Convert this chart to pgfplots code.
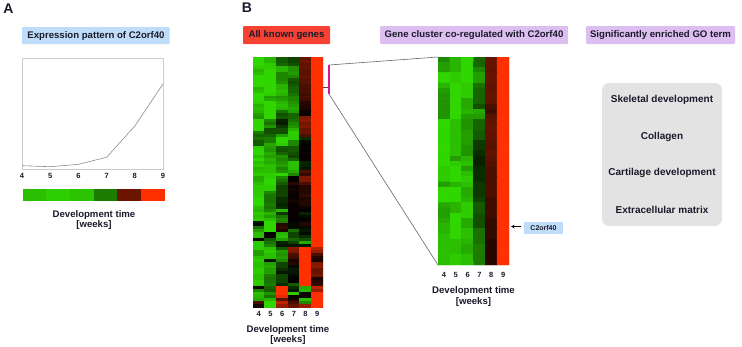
\documentclass[border=0pt]{standalone}
\usepackage{pgfplots}
\usepackage{fontspec}
\setmainfont{Liberation Sans}
\pgfplotsset{compat=1.18}
\definecolor{txt}{HTML}{1A1A2A}
\definecolor{tagblue}{RGB}{191,221,248}
\definecolor{tagviolet}{RGB}{221,190,240}
\definecolor{tagred}{RGB}{246,66,50}
\newcommand{\fs}[1]{\fontsize{#1}{#1}\selectfont\bfseries}
\pgfplotsset{
  colormap={gbr}{rgb255(0)=(50,225,0) rgb255(500)=(0,0,0) rgb255(1000)=(255,48,0)},
  heat/.style={scale only axis,axis line style={draw=none},tick style={draw=none},
    xmin=3.5,xmax=9.5,y dir=reverse,ytick=\empty,xtick={4,...,9},
    point meta min=-1,point meta max=1,
    xticklabel style={font=\fs{7.5},text=txt,inner sep=0pt},
    /pgf/number format/assume math mode=true,
    xlabel style={font=\fs{9.6},text=txt,align=center,inner sep=0pt}},
  heatcells/.style={matrix plot*,mesh/cols=6,point meta=explicit},
}
\begin{document}
\begin{tikzpicture}
\useasboundingbox (0pt,0pt) rectangle (742pt,-346pt);
\begin{scope}[x=1pt,y=-1pt]
\node[font=\fs{14},text=txt,inner sep=0pt] at (8.5,9) {A};
\node[font=\fs{14},text=txt,inner sep=0pt] at (247,8) {B};
\fill[rounded corners=1pt,fill=tagblue] (22,27) rectangle (169.5,44);
\node[font=\fs{9.6},text=txt,inner sep=0pt] at (96,36) {Expression pattern of C2orf40};
\fill[rounded corners=1pt,fill=tagred] (243,26) rectangle (330,44);
\node[font=\fs{9.6},text=txt,inner sep=0pt] at (286.5,35) {All known genes};
\fill[rounded corners=1pt,fill=tagviolet] (380,26) rectangle (568,44);
\node[font=\fs{9.6},text=txt,inner sep=0pt] at (474,35) {Gene cluster co-regulated with C2orf40};
\fill[rounded corners=1pt,fill=tagviolet] (586,26) rectangle (735,44);
\node[font=\fs{9.6},text=txt,inner sep=0pt] at (660.5,35) {Significantly enriched GO term};
\fill[rounded corners=7pt,fill=black!11] (602,83) rectangle (722,226);
\node[font=\fs{10},text=txt,inner sep=0pt] at (662,100) {Skeletal development};
\node[font=\fs{10},text=txt,inner sep=0pt] at (662,137) {Collagen};
\node[font=\fs{10},text=txt,inner sep=0pt] at (662,173) {Cartilage development};
\node[font=\fs{10},text=txt,inner sep=0pt] at (662,210) {Extracellular matrix};
\draw[black!60,line width=.6pt] (329,65) -- (438,57);
\draw[black!60,line width=.6pt] (329,94) -- (438,265);
\draw[black!70,line width=.6pt] (323,87) -- (328,87);
\draw[magenta!80!violet,line width=1.6pt] (329,65) -- (329,94);
\fill[fill=tagblue] (524,222) rectangle (563,234);
\node[font=\fs{7},text=txt,inner sep=0pt] at (543.5,228) {C2orf40};
\draw[black,line width=.6pt,-stealth] (521,226.5) -- (511,226.5);
\end{scope}
% panel A line
\begin{axis}[at={(22pt,-169pt)},anchor=south west,scale only axis,width=141pt,height=111pt,
  xmin=4,xmax=9,ymin=0,ymax=111,ytick=\empty,xtick={4,...,9},
  axis line style={draw=black!20,line width=.8pt},tick style={draw=none},
  xticklabel style={font=\fs{7.5},text=txt,inner sep=0pt,yshift=-4pt},
  /pgf/number format/assume math mode=true,clip=false]
\addplot[black!45,line width=.6pt] coordinates {(4,3.3)(5,2.3)(6,4.7)(7,11.7)(8,43)(9,85)};
\end{axis}
% panel A colour bar
\begin{axis}[heat,at={(23pt,-200pt)},anchor=south west,width=142pt,height=11pt,
  ymin=-.5,ymax=1.5,xtick=\empty,xlabel={Development time\\[1pt] [weeks]},
  xlabel style={yshift=-10pt}]
\addplot[heatcells] coordinates {
(4,0)[-.85](5,0)[-.92](6,0)[-.87](7,0)[-.55](8,0)[.42](9,0)[1]
(4,1)[-.85](5,1)[-.92](6,1)[-.87](7,1)[-.55](8,1)[.42](9,1)[1]
};
\end{axis}
% all genes heat map
\begin{axis}[heat,at={(253pt,-307pt)},anchor=south west,width=70pt,height=250pt,
  ymin=-.5,ymax=83.5,xlabel={Development time\\[1pt] [weeks]},
  xticklabel style={yshift=-4.5pt},xlabel style={yshift=-8pt}]
\addplot[heatcells] coordinates {
(4,0)[-.95](5,0)[-.8](6,0)[-.4](7,0)[-.3](8,0)[.4](9,0)[1]
(4,1)[-.95](5,1)[-.8](6,1)[-.4](7,1)[-.3](8,1)[.42](9,1)[1]
(4,2)[-.95](5,2)[-.9](6,2)[-.45](7,2)[-.35](8,2)[.38](9,2)[1]
(4,3)[-.9](5,3)[-.9](6,3)[-.8](7,3)[-.65](8,3)[.4](9,3)[1]
(4,4)[-.8](5,4)[-.95](6,4)[-.8](7,4)[-.65](8,4)[.35](9,4)[1]
(4,5)[-.85](5,5)[-.95](6,5)[-.6](7,5)[-.7](8,5)[.35](9,5)[1]
(4,6)[-.95](5,6)[-.95](6,6)[-.6](7,6)[-.6](8,6)[.4](9,6)[1]
(4,7)[-.95](5,7)[-.95](6,7)[-.6](7,7)[-.4](8,7)[.35](9,7)[1]
(4,8)[-.95](5,8)[-.95](6,8)[-.65](7,8)[-.35](8,8)[.35](9,8)[1]
(4,9)[-.95](5,9)[-.95](6,9)[-.8](7,9)[-.4](8,9)[.3](9,9)[1]
(4,10)[-.8](5,10)[-.95](6,10)[-.8](7,10)[-.45](8,10)[.3](9,10)[1]
(4,11)[-.85](5,11)[-.95](6,11)[-.85](7,11)[-.45](8,11)[.3](9,11)[1]
(4,12)[-.95](5,12)[-.9](6,12)[-.8](7,12)[-.5](8,12)[.25](9,12)[1]
(4,13)[-.95](5,13)[-.7](6,13)[-.65](7,13)[-.6](8,13)[.3](9,13)[1]
(4,14)[-.95](5,14)[-.75](6,14)[-.7](7,14)[-.6](8,14)[.25](9,14)[1]
(4,15)[-.9](5,15)[-.95](6,15)[-.8](7,15)[-.65](8,15)[.15](9,15)[1]
(4,16)[-.8](5,16)[-.95](6,16)[-.85](7,16)[-.7](8,16)[.15](9,16)[1]
(4,17)[-.85](5,17)[-.95](6,17)[-.8](7,17)[-.75](8,17)[.12](9,17)[1]
(4,18)[-.8](5,18)[-.95](6,18)[-.5](7,18)[-.7](8,18)[.05](9,18)[1]
(4,19)[-.7](5,19)[-.95](6,19)[-.35](7,19)[-.45](8,19)[.03](9,19)[1]
(4,20)[-.65](5,20)[-.95](6,20)[-.4](7,20)[-.45](8,20)[.5](9,20)[1]
(4,21)[-.95](5,21)[-.6](6,21)[-.15](7,21)[-.5](8,21)[.55](9,21)[1]
(4,22)[-.95](5,22)[-.5](6,22)[-.12](7,22)[-.6](8,22)[.45](9,22)[1]
(4,23)[-.95](5,23)[-.65](6,23)[-.25](7,23)[-.65](8,23)[.5](9,23)[1]
(4,24)[-.95](5,24)[-.35](6,24)[-.35](7,24)[-.8](8,24)[.4](9,24)[1]
(4,25)[-.55](5,25)[-.35](6,25)[-.35](7,25)[-.9](8,25)[.42](9,25)[1]
(4,26)[-.45](5,26)[-.45](6,26)[-.7](7,26)[-.9](8,26)[.3](9,26)[1]
(4,27)[-.5](5,27)[-.55](6,27)[-.95](7,27)[-.9](8,27)[-.2](9,27)[1]
(4,28)[-.4](5,28)[-.55](6,28)[-.95](7,28)[-.6](8,28)[-.05](9,28)[1]
(4,29)[-.4](5,29)[-.75](6,29)[-.9](7,29)[-.6](8,29)[0](9,29)[1]
(4,30)[-.9](5,30)[-.7](6,30)[-.4](7,30)[-.4](8,30)[.02](9,30)[1]
(4,31)[-.95](5,31)[-.65](6,31)[-.35](7,31)[-.4](8,31)[0](9,31)[1]
(4,32)[-.95](5,32)[-.75](6,32)[-.45](7,32)[-.35](8,32)[.05](9,32)[1]
(4,33)[-.85](5,33)[-.7](6,33)[-.65](7,33)[-.3](8,33)[0](9,33)[1]
(4,34)[-.95](5,34)[-.8](6,34)[-.6](7,34)[-.45](8,34)[.03](9,34)[1]
(4,35)[-.85](5,35)[-.75](6,35)[-.65](7,35)[-.85](8,35)[-.15](9,35)[1]
(4,36)[-.9](5,36)[-.85](6,36)[-.7](7,36)[-.85](8,36)[-.15](9,36)[1]
(4,37)[-.8](5,37)[-.85](6,37)[-.6](7,37)[-.85](8,37)[-.1](9,37)[1]
(4,38)[-.85](5,38)[-.85](6,38)[-.65](7,38)[-.75](8,38)[.3](9,38)[1]
(4,39)[-.9](5,39)[-.9](6,39)[-.95](7,39)[-.6](8,39)[.2](9,39)[1]
(4,40)[-.75](5,40)[-.9](6,40)[-.6](7,40)[0](8,40)[.5](9,40)[1]
(4,41)[-.75](5,41)[-.95](6,41)[-.5](7,41)[0](8,41)[.5](9,41)[1]
(4,42)[-.85](5,42)[-.95](6,42)[-.4](7,42)[.15](8,42)[.3](9,42)[1]
(4,43)[-.9](5,43)[-.9](6,43)[-.3](7,43)[.05](8,43)[.15](9,43)[1]
(4,44)[-.9](5,44)[-.9](6,44)[-.3](7,44)[.08](8,44)[.15](9,44)[1]
(4,45)[-.9](5,45)[-.6](6,45)[-.3](7,45)[.05](8,45)[.15](9,45)[1]
(4,46)[-.9](5,46)[-.5](6,46)[-.3](7,46)[.02](8,46)[.2](9,46)[1]
(4,47)[-.95](5,47)[-.5](6,47)[-.2](7,47)[.05](8,47)[.12](9,47)[1]
(4,48)[-.95](5,48)[-.5](6,48)[-.2](7,48)[.08](8,48)[.15](9,48)[1]
(4,49)[-.95](5,49)[-.55](6,49)[-.15](7,49)[.03](8,49)[.15](9,49)[1]
(4,50)[-.85](5,50)[-.5](6,50)[-.2](7,50)[.03](8,50)[.05](9,50)[1]
(4,51)[-.8](5,51)[-.6](6,51)[-.8](7,51)[.02](8,51)[0](9,51)[1]
(4,52)[-.9](5,52)[-.8](6,52)[-.25](7,52)[.02](8,52)[-.15](9,52)[1]
(4,53)[-.85](5,53)[-.7](6,53)[-.5](7,53)[.03](8,53)[-.05](9,53)[1]
(4,54)[-.9](5,54)[-.85](6,54)[-.6](7,54)[0](8,54)[0](9,54)[1]
(4,55)[-.1](5,55)[-.95](6,55)[-.55](7,55)[.02](8,55)[.1](9,55)[1]
(4,56)[-.05](5,56)[-.95](6,56)[.15](7,56)[-.05](8,56)[.15](9,56)[1]
(4,57)[-.5](5,57)[-.95](6,57)[.2](7,57)[-.05](8,57)[-.05](9,57)[1]
(4,58)[-.7](5,58)[-.95](6,58)[.1](7,58)[-.5](8,58)[-.1](9,58)[1]
(4,59)[-.85](5,59)[0](6,59)[-.8](7,59)[-.3](8,59)[-.05](9,59)[1]
(4,60)[-.85](5,60)[.02](6,60)[-.85](7,60)[-.3](8,60)[-.2](9,60)[1]
(4,61)[0](5,61)[-.4](6,61)[-.7](7,61)[-.45](8,61)[-.35](9,61)[1]
(4,62)[-.9](5,62)[-.5](6,62)[-.15](7,62)[-.3](8,62)[-.75](9,62)[1]
(4,63)[-.9](5,63)[-.6](6,63)[-.1](7,63)[-.1](8,63)[-.1](9,63)[1]
(4,64)[-.9](5,64)[-.85](6,64)[-.4](7,64)[.55](8,64)[1](9,64)[.7]
(4,65)[-.7](5,65)[-.9](6,65)[-.7](7,65)[.5](8,65)[1](9,65)[.6]
(4,66)[-.7](5,66)[-.85](6,66)[-.65](7,66)[.3](8,66)[1](9,66)[.3]
(4,67)[-.85](5,67)[-.85](6,67)[-.7](7,67)[.25](8,67)[1](9,67)[.15]
(4,68)[-.9](5,68)[-.1](6,68)[-.6](7,68)[.1](8,68)[1](9,68)[.1]
(4,69)[-.85](5,69)[-.7](6,69)[-.3](7,69)[.15](8,69)[1](9,69)[.5]
(4,70)[-.85](5,70)[-.75](6,70)[-.3](7,70)[-.05](8,70)[1](9,70)[.55]
(4,71)[-.9](5,71)[-.7](6,71)[-.2](7,71)[-.1](8,71)[1](9,71)[.4]
(4,72)[-.9](5,72)[-.7](6,72)[-.1](7,72)[-.1](8,72)[1](9,72)[.4]
(4,73)[-.85](5,73)[-.55](6,73)[-.3](7,73)[-.05](8,73)[1](9,73)[.45]
(4,74)[-.85](5,74)[-.5](6,74)[-.3](7,74)[0](8,74)[1](9,74)[.1]
(4,75)[-.9](5,75)[-.5](6,75)[-.3](7,75)[0](8,75)[1](9,75)[.15]
(4,76)[-.9](5,76)[-.55](6,76)[-.2](7,76)[-.4](8,76)[1](9,76)[.2]
(4,77)[.05](5,77)[-.45](6,77)[1](7,77)[-.2](8,77)[-.75](9,77)[.75]
(4,78)[-.6](5,78)[-.4](6,78)[1](7,78)[-.1](8,78)[-.8](9,78)[.6]
(4,79)[-.85](5,79)[-.65](6,79)[1](7,79)[-.9](8,79)[.05](9,79)[1]
(4,80)[-.8](5,80)[-.5](6,80)[.9](7,80)[.05](8,80)[.02](9,80)[1]
(4,81)[-.75](5,81)[-.8](6,81)[.35](7,81)[.1](8,81)[-.85](9,81)[1]
(4,82)[.3](5,82)[-.95](6,82)[.75](7,82)[.3](8,82)[-.6](9,82)[1]
(4,83)[.1](5,83)[-.95](6,83)[.6](7,83)[.4](8,83)[.6](9,83)[1]
};
\end{axis}
% cluster heat map
\begin{axis}[heat,at={(438pt,-265pt)},anchor=south west,width=71pt,height=208pt,
  ymin=-.5,ymax=39.5,xlabel={Development time\\[1pt] [weeks]},
  xticklabel style={yshift=-7pt},xlabel style={yshift=-9pt}]
\addplot[heatcells] coordinates {
(4,0)[-.6](5,0)[-.8](6,0)[-.95](7,0)[-.45](8,0)[.4](9,0)[1]
(4,1)[-.7](5,1)[-.8](6,1)[-.95](7,1)[-.45](8,1)[.4](9,1)[1]
(4,2)[-.7](5,2)[-.8](6,2)[-.95](7,2)[-.6](8,2)[.38](9,2)[1]
(4,3)[-.95](5,3)[-.9](6,3)[-.95](7,3)[-.7](8,3)[.4](9,3)[1]
(4,4)[-.95](5,4)[-.9](6,4)[-.95](7,4)[-.7](8,4)[.4](9,4)[1]
(4,5)[-.8](5,5)[-.95](6,5)[-.9](7,5)[-.5](8,5)[.38](9,5)[1]
(4,6)[-.7](5,6)[-.95](6,6)[-.9](7,6)[-.45](8,6)[.38](9,6)[1]
(4,7)[-.65](5,7)[-.95](6,7)[-.9](7,7)[-.45](8,7)[.4](9,7)[1]
(4,8)[-.65](5,8)[-.95](6,8)[-.75](7,8)[-.45](8,8)[.38](9,8)[1]
(4,9)[-.65](5,9)[-.95](6,9)[-.75](7,9)[-.35](8,9)[.3](9,9)[1]
(4,10)[-.65](5,10)[-.95](6,10)[-.8](7,10)[-.75](8,10)[.25](9,10)[1]
(4,11)[-.65](5,11)[-.95](6,11)[-.7](7,11)[-.7](8,11)[.35](9,11)[1]
(4,12)[-.95](5,12)[-.85](6,12)[-.65](7,12)[-.45](8,12)[.38](9,12)[1]
(4,13)[-.95](5,13)[-.85](6,13)[-.65](7,13)[-.45](8,13)[.4](9,13)[1]
(4,14)[-.95](5,14)[-.85](6,14)[-.7](7,14)[-.4](8,14)[.38](9,14)[1]
(4,15)[-.95](5,15)[-.85](6,15)[-.7](7,15)[-.4](8,15)[.38](9,15)[1]
(4,16)[-.95](5,16)[-.85](6,16)[-.7](7,16)[-.25](8,16)[.35](9,16)[1]
(4,17)[-.95](5,17)[-.85](6,17)[-.65](7,17)[-.25](8,17)[.35](9,17)[1]
(4,18)[-.95](5,18)[-.85](6,18)[-.65](7,18)[-.2](8,18)[.38](9,18)[1]
(4,19)[-.95](5,19)[-.7](6,19)[-.8](7,19)[-.15](8,19)[.35](9,19)[1]
(4,20)[-.95](5,20)[-.9](6,20)[-.85](7,20)[-.15](8,20)[.33](9,20)[1]
(4,21)[-.9](5,21)[-.95](6,21)[-.7](7,21)[-.2](8,21)[.3](9,21)[1]
(4,22)[-.9](5,22)[-.95](6,22)[-.85](7,22)[-.2](8,22)[.3](9,22)[1]
(4,23)[-.9](5,23)[-.95](6,23)[-.9](7,23)[-.2](8,23)[.3](9,23)[1]
(4,24)[-.7](5,24)[-.8](6,24)[-.85](7,24)[-.25](8,24)[.3](9,24)[1]
(4,25)[-.95](5,25)[-.95](6,25)[-.75](7,25)[-.25](8,25)[.3](9,25)[1]
(4,26)[-.95](5,26)[-.95](6,26)[-.75](7,26)[-.25](8,26)[.3](9,26)[1]
(4,27)[-.95](5,27)[-.95](6,27)[-.8](7,27)[-.3](8,27)[.25](9,27)[1]
(4,28)[-.75](5,28)[-.8](6,28)[-.9](7,28)[-.4](8,28)[.25](9,28)[1]
(4,29)[-.7](5,29)[-.8](6,29)[-.9](7,29)[-.4](8,29)[.25](9,29)[1]
(4,30)[-.7](5,30)[-.95](6,30)[-.9](7,30)[-.35](8,30)[.25](9,30)[1]
(4,31)[-.75](5,31)[-.95](6,31)[-.75](7,31)[-.35](8,31)[.2](9,31)[1]
(4,32)[-.8](5,32)[-.95](6,32)[-.75](7,32)[-.35](8,32)[.2](9,32)[1]
(4,33)[-.8](5,33)[-.95](6,33)[-.85](7,33)[-.5](8,33)[.2](9,33)[1]
(4,34)[-.85](5,34)[-.95](6,34)[-.85](7,34)[-.5](8,34)[.2](9,34)[1]
(4,35)[-.85](5,35)[-.85](6,35)[-.8](7,35)[-.5](8,35)[.15](9,35)[1]
(4,36)[-.85](5,36)[-.85](6,36)[-.75](7,36)[-.55](8,36)[.15](9,36)[1]
(4,37)[-.85](5,37)[-.85](6,37)[-.75](7,37)[-.55](8,37)[.15](9,37)[1]
(4,38)[-.85](5,38)[-.9](6,38)[-.85](7,38)[-.55](8,38)[.15](9,38)[1]
(4,39)[-.85](5,39)[-.9](6,39)[-.85](7,39)[-.55](8,39)[.15](9,39)[1]
};
\end{axis}
\end{tikzpicture}
\end{document}
